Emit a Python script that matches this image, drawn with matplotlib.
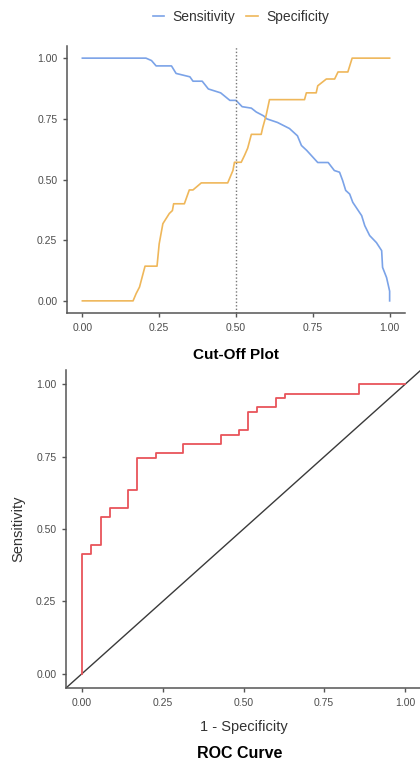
import matplotlib
matplotlib.use("Agg")
import matplotlib.pyplot as plt

plt.rcParams['font.family'] = ['Liberation Sans', 'DejaVu Sans']

# cut-off plot: sensitivity against cut-off
sens_cut = [0.0, 0.207, 0.225, 0.24, 0.29, 0.305, 0.35, 0.36, 0.39, 0.41, 0.45,
            0.48, 0.50, 0.52, 0.55, 0.566, 0.59, 0.60, 0.635, 0.674, 0.70,
            0.713, 0.73, 0.766, 0.80, 0.82, 0.837, 0.847, 0.857, 0.87, 0.88,
            0.909, 0.919, 0.935, 0.957, 0.974, 0.977, 0.99, 1.0, 1.0]
sens_val = [1.0, 1.0, 0.99, 0.968, 0.968, 0.937, 0.923, 0.905, 0.905, 0.873,
            0.857, 0.826, 0.826, 0.80, 0.794, 0.778, 0.762, 0.75, 0.735, 0.71,
            0.68, 0.64, 0.62, 0.57, 0.57, 0.537, 0.53, 0.496, 0.455, 0.44,
            0.406, 0.351, 0.31, 0.269, 0.24, 0.207, 0.138, 0.096, 0.04, 0.0]

# cut-off plot: specificity against cut-off
spec_cut = [0.0, 0.165, 0.175, 0.186, 0.204, 0.243, 0.25, 0.262, 0.283, 0.293,
            0.297, 0.332, 0.348, 0.36, 0.387, 0.473, 0.49, 0.495, 0.517, 0.528,
            0.538, 0.55, 0.582, 0.587, 0.598, 0.609, 0.723, 0.729, 0.761,
            0.766, 0.794, 0.821, 0.832, 0.864, 0.878, 1.0]
spec_val = [0.0, 0.0, 0.03, 0.057, 0.143, 0.143, 0.235, 0.318, 0.36, 0.372,
            0.40, 0.40, 0.457, 0.457, 0.486, 0.486, 0.537, 0.571, 0.571, 0.60,
            0.629, 0.686, 0.686, 0.714, 0.764, 0.829, 0.829, 0.857, 0.857,
            0.886, 0.914, 0.914, 0.943, 0.943, 1.0, 1.0]

# ROC curve
fpr = [0, 0, 0.029, 0.057, 0.086, 0.143, 0.171, 0.229, 0.314, 0.429, 0.486,
       0.514, 0.543, 0.600, 0.629, 0.857, 1.0]
tpr = [0, 0.413, 0.444, 0.540, 0.571, 0.635, 0.746, 0.762, 0.794, 0.825,
       0.841, 0.905, 0.921, 0.952, 0.968, 1.0, 1.0]

ticks = [0.0, 0.25, 0.5, 0.75, 1.0]
tick_labels = ["0.00", "0.25", "0.50", "0.75", "1.00"]

BLUE = "#7ba3e8"
ORANGE = "#efb75a"
RED = "#e8545a"
AXC = "#555555"


def style_axes(ax):
    for s in ["top", "right"]:
        ax.spines[s].set_visible(False)
    for s in ["left", "bottom"]:
        ax.spines[s].set_color(AXC)
        ax.spines[s].set_linewidth(1.1)
    ax.set_xlim(-0.05, 1.05)
    ax.set_ylim(-0.05, 1.05)
    ax.set_xticks(ticks)
    ax.set_xticklabels(tick_labels)
    ax.set_yticks(ticks)
    ax.set_yticklabels(tick_labels)
    ax.tick_params(length=3, width=1, color=AXC, labelsize=7.5,
                   labelcolor="#4d4d4d", pad=4)


fig = plt.figure(figsize=(4.2, 7.63), dpi=100)

ax1 = fig.add_axes([67/420, 1-313/763, 338/420, 267/763])
ax1.plot(sens_cut, sens_val, color=BLUE, lw=1.2, label="Sensitivity")
ax1.plot(spec_cut, spec_val, color=ORANGE, lw=1.2, label="Specificity")
ax1.axvline(0.5, color="#777777", lw=1.0, ls=(0, (1, 1.5)))
style_axes(ax1)
fig.text(236/420, 1-355/763, "Cut-Off Plot", ha="center", va="center",
         fontsize=11, fontweight="bold")
fig.legend(loc="center", bbox_to_anchor=(241/420, 1-17/763), ncol=2,
           frameon=False, fontsize=10, handlelength=0.8, handletextpad=0.6,
           columnspacing=0.8, labelcolor="#333333")

ax2 = fig.add_axes([66/420, 1-688/763, 355/420, 318/763])
ax2.axline((0, 0), slope=1, color="#3a3a3a", lw=1.0)
ax2.step(fpr, tpr, where="post", color=RED, lw=1.3)
style_axes(ax2)
ax2.set_xlabel("1 - Specificity", fontsize=10.5, color="#333333", labelpad=9)
ax2.set_ylabel("Sensitivity", fontsize=10.5, color="#333333", labelpad=8)
fig.text(240/420, 1-753/763, "ROC Curve", ha="center", va="center",
         fontsize=11.5, fontweight="bold")

fig.savefig("out.png", dpi=100)
